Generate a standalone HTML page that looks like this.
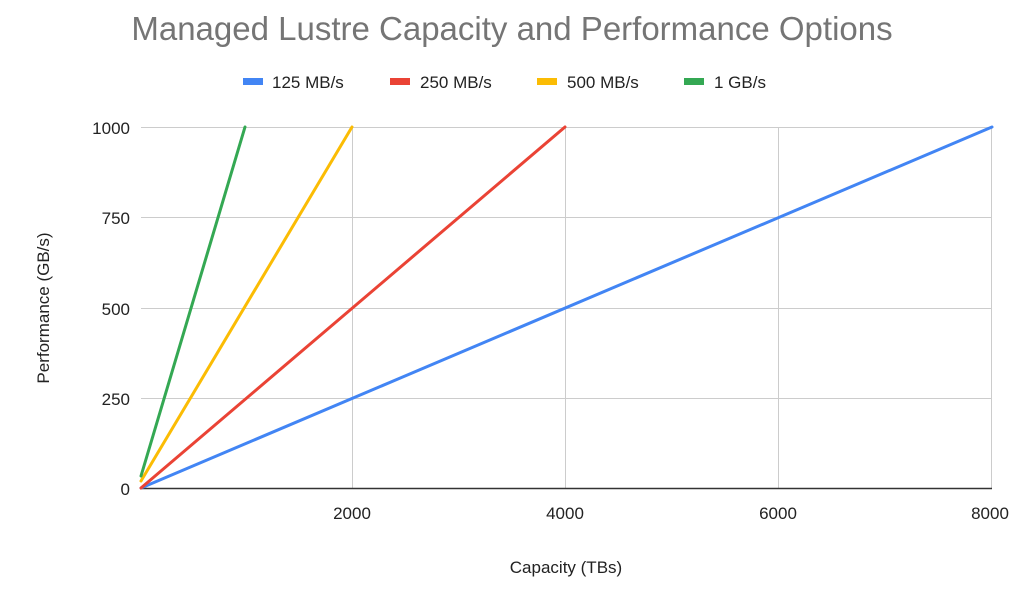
<!DOCTYPE html>
<html><head><style>body{margin:0;background:#fff}</style></head><body>
<svg width="1024" height="585" xmlns="http://www.w3.org/2000/svg" font-family="Liberation Sans, Arial, sans-serif">
<rect width="1024" height="585" fill="#fff"/>
<text x="512" y="40" text-anchor="middle" font-size="33" fill="#757575">Managed Lustre Capacity and Performance Options</text>
<g font-size="17" fill="#222">
<rect x="243" y="78" width="20" height="7" fill="#4285f4"/><text x="272" y="88">125 MB/s</text>
<rect x="390" y="78" width="20" height="7" fill="#ea4335"/><text x="420" y="88">250 MB/s</text>
<rect x="537" y="78" width="20" height="7" fill="#fbbc04"/><text x="567" y="88">500 MB/s</text>
<rect x="684" y="78" width="20" height="7" fill="#34a853"/><text x="714" y="88">1 GB/s</text>
</g>
<g stroke="#ccc" stroke-width="1">
<line x1="141" y1="127.5" x2="992" y2="127.5"/>
<line x1="141" y1="217.5" x2="992" y2="217.5"/>
<line x1="141" y1="308.5" x2="992" y2="308.5"/>
<line x1="141" y1="398.5" x2="992" y2="398.5"/>
<line x1="352.5" y1="127" x2="352.5" y2="488"/>
<line x1="565.5" y1="127" x2="565.5" y2="488"/>
<line x1="778.5" y1="127" x2="778.5" y2="488"/>
<line x1="991.5" y1="127" x2="991.5" y2="488"/>
</g>
<line x1="141" y1="488.5" x2="992" y2="488.5" stroke="#333" stroke-width="1.5"/>
<g font-size="17" fill="#222" text-anchor="end">
<text x="130" y="134">1000</text><text x="130" y="224">750</text><text x="130" y="315">500</text><text x="130" y="405">250</text><text x="130" y="495">0</text>
</g>
<g font-size="17" fill="#222" text-anchor="middle">
<text x="352" y="519">2000</text><text x="565" y="519">4000</text><text x="778" y="519">6000</text><text x="990" y="519">8000</text>
</g>
<text x="566" y="573" text-anchor="middle" font-size="17" fill="#222">Capacity (TBs)</text>
<text transform="translate(49,308) rotate(-90)" text-anchor="middle" font-size="17" fill="#222">Performance (GB/s)</text>
<g stroke-width="3" fill="none" stroke-linecap="round">
<polyline points="141,488 992,127" stroke="#4285f4"/>
<polyline points="141,488 565,127" stroke="#ea4335"/>
<polyline points="141,481 352,127" stroke="#fbbc04"/>
<polyline points="141,476 245,127" stroke="#34a853"/>
</g>
</svg>
</body></html>
